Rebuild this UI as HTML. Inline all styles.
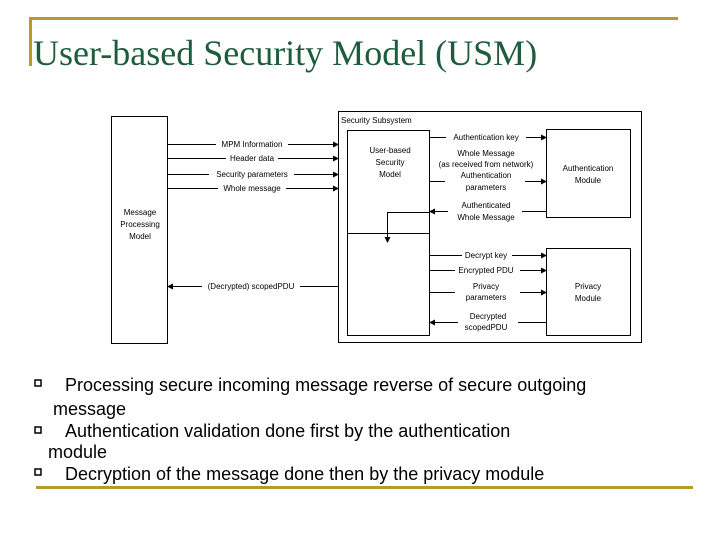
<!DOCTYPE html>
<html><head><meta charset="utf-8"><style>
html,body{margin:0;padding:0;background:#fff;}
svg{display:block}
</style></head><body>
<svg width="720" height="540" xmlns="http://www.w3.org/2000/svg">
<defs>
<marker id="a" markerWidth="6" markerHeight="6" refX="5" refY="3" orient="auto" markerUnits="userSpaceOnUse"><path d="M0,0 L6,3 L0,6z" fill="#000"/></marker>
</defs>
<rect x="29" y="17" width="649" height="3" fill="#b89a2a"/>
<rect x="29" y="17" width="3" height="49" fill="#b89a2a"/>
<rect x="36" y="486" width="657" height="3" fill="#b89a2a"/>
<text x="33" y="65" font-family="Liberation Serif, serif" font-size="36" fill="#1d5c3c">User-based Security Model (USM)</text>

<g fill="none" stroke="#000" stroke-width="1">
<rect x="111.5" y="116.5" width="56" height="227"/>
<rect x="338.5" y="111.5" width="303" height="231"/>
<rect x="347.5" y="130.5" width="82" height="205"/>
<line x1="347" y1="233.5" x2="430" y2="233.5"/>
<rect x="546.5" y="129.5" width="84" height="88"/>
<rect x="546.5" y="248.5" width="84" height="87"/>
<g marker-end="url(#a)">
<line x1="167" y1="144.5" x2="338" y2="144.5"/>
<line x1="167" y1="158.5" x2="338" y2="158.5"/>
<line x1="167" y1="174.5" x2="338" y2="174.5"/>
<line x1="167" y1="188.5" x2="338" y2="188.5"/>
<line x1="338" y1="286.5" x2="168" y2="286.5"/>
<line x1="430" y1="137.5" x2="546" y2="137.5"/>
<line x1="430" y1="181.5" x2="546" y2="181.5"/>
<line x1="546" y1="211.5" x2="430" y2="211.5"/>
<polyline points="430,212.5 387.5,212.5 387.5,242"/>
<line x1="430" y1="255.5" x2="546" y2="255.5"/>
<line x1="430" y1="270.5" x2="546" y2="270.5"/>
<line x1="430" y1="292.5" x2="546" y2="292.5"/>
<line x1="546" y1="322.5" x2="430" y2="322.5"/>
</g>
</g>
<g font-family="Liberation Sans, sans-serif" font-size="8" fill="#000" text-anchor="middle">
<g fill="#fff" stroke="none">
<rect x="216" y="139" width="72" height="10"/>
<rect x="226" y="153" width="52" height="10"/>
<rect x="209" y="169" width="85" height="10"/>
<rect x="218" y="183" width="68" height="10"/>
<rect x="202" y="281" width="98" height="10"/>
<rect x="446" y="132" width="80" height="10"/>
<rect x="445" y="176" width="80" height="10"/>
<rect x="448" y="206" width="74" height="10"/>
<rect x="462" y="250" width="50" height="10"/>
<rect x="455" y="265" width="65" height="10"/>
<rect x="455" y="287" width="65" height="10"/>
<rect x="458" y="317" width="60" height="10"/>
</g>
<text x="252" y="147">MPM Information</text>
<text x="252" y="161">Header data</text>
<text x="252" y="177">Security parameters</text>
<text x="252" y="191">Whole message</text>
<text x="251" y="289">(Decrypted) scopedPDU</text>
<text x="140" y="215">Message</text>
<text x="140" y="227">Processing</text>
<text x="140" y="239">Model</text>
<text x="341" y="123" text-anchor="start">Security Subsystem</text>
<text x="390" y="153">User-based</text>
<text x="390" y="165">Security</text>
<text x="390" y="177">Model</text>
<text x="486" y="140">Authentication key</text>
<text x="486" y="156">Whole Message</text>
<text x="486" y="167">(as received from network)</text>
<text x="486" y="178">Authentication</text>
<text x="486" y="190">parameters</text>
<text x="486" y="208">Authenticated</text>
<text x="486" y="220">Whole Message</text>
<text x="486" y="258">Decrypt key</text>
<text x="486" y="273">Encrypted PDU</text>
<text x="486" y="289">Privacy</text>
<text x="486" y="300">parameters</text>
<text x="488" y="319">Decrypted</text>
<text x="486" y="330">scopedPDU</text>
<text x="588" y="171">Authentication</text>
<text x="588" y="183">Module</text>
<text x="588" y="289">Privacy</text>
<text x="588" y="301">Module</text>
</g>
<g font-family="Liberation Sans, sans-serif" font-size="18" fill="#000">
<rect x="35" y="380" width="6" height="6" fill="none" stroke="#000" stroke-width="1.5"/>
<rect x="35" y="427" width="6" height="6" fill="none" stroke="#000" stroke-width="1.5"/>
<rect x="35" y="469" width="6" height="6" fill="none" stroke="#000" stroke-width="1.5"/>
<text x="65" y="391">Processing secure incoming message reverse of secure outgoing</text>
<text x="53" y="415">message</text>
<text x="65" y="437">Authentication validation done first by the authentication</text>
<text x="48" y="458">module</text>
<text x="65" y="480">Decryption of the message done then by the privacy module</text>
</g>
</svg>
</body></html>
